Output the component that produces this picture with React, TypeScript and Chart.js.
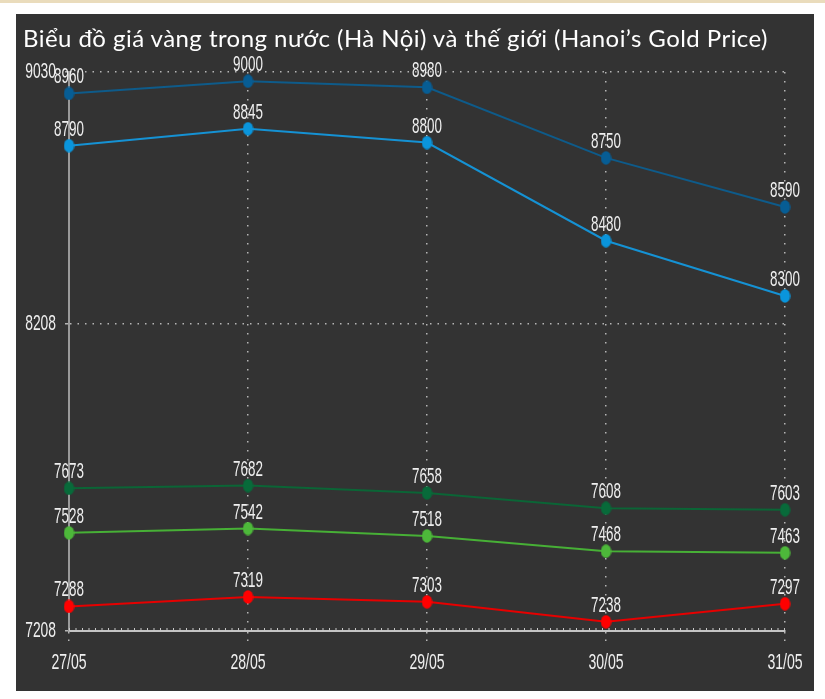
import React, { useEffect, useRef } from 'react';
import { Chart, registerables } from 'chart.js';

Chart.register(...registerables);

const TITLE = 'Biểu đồ giá vàng trong nước (Hà Nội) và thế giới (Hanoi’s Gold Price)';
const DATES = ['27/05', '28/05', '29/05', '30/05', '31/05'];
const SERIES_DARK_BLUE = [8960, 9000, 8980, 8750, 8590];
const SERIES_LIGHT_BLUE = [8790, 8845, 8800, 8480, 8300];
const SERIES_DARK_GREEN = [7673, 7682, 7658, 7608, 7603];
const SERIES_LIGHT_GREEN = [7528, 7542, 7518, 7468, 7463];
const SERIES_RED = [7288, 7319, 7303, 7238, 7297];
const Y_MIN = 7208;
const Y_MAX = 9030;
const Y_TICKS = [7208, 8208, 9030];

const TEXT_COLOR = '#efefef';
const TEXT_FONT = '22px "Liberation Sans", Arial, sans-serif';

function ellipse(color: string): HTMLCanvasElement {
  const c = document.createElement('canvas');
  c.width = 11;
  c.height = 14;
  const g = c.getContext('2d')!;
  g.fillStyle = color;
  g.beginPath();
  g.ellipse(5.5, 7, 5.2, 6.8, 0, 0, Math.PI * 2);
  g.fill();
  return c;
}

function condensed(ctx: CanvasRenderingContext2D, text: string, x: number, y: number, align: CanvasTextAlign, baseline: CanvasTextBaseline, sx: number) {
  ctx.save();
  ctx.translate(x, y);
  ctx.scale(sx, 1);
  ctx.font = TEXT_FONT;
  ctx.fillStyle = TEXT_COLOR;
  ctx.textAlign = align;
  ctx.textBaseline = baseline;
  ctx.fillText(text, 0, 0);
  ctx.restore();
}

const textPlugin = {
  id: 'condensedText',
  afterDraw(chart: any) {
    const ctx = chart.ctx as CanvasRenderingContext2D;
    const area = chart.chartArea;
    const xs = chart.scales.x;
    const ys = chart.scales.y;
    // x axis ruler marks
    ctx.save();
    ctx.strokeStyle = '#c8c8c8';
    ctx.lineWidth = 3;
    ctx.setLineDash([1, 5.5]);
    ctx.beginPath();
    ctx.moveTo(area.left, area.bottom - 1.5);
    ctx.lineTo(area.right, area.bottom - 1.5);
    ctx.stroke();
    ctx.restore();
    xs.ticks.forEach((t: any, i: number) => {
      condensed(ctx, xs.getLabelForValue(t.value), xs.getPixelForTick(i), area.bottom + 32, 'center', 'middle', 0.64);
    });
    ys.ticks.forEach((t: any) => {
      condensed(ctx, String(t.value), area.left - 13, ys.getPixelForValue(t.value), 'right', 'middle', 0.63);
    });
    chart.data.datasets.forEach((ds: any, di: number) => {
      const meta = chart.getDatasetMeta(di);
      meta.data.forEach((pt: any, i: number) => {
        condensed(ctx, String(ds.data[i]), pt.x, pt.y - 10, 'center', 'alphabetic', 0.61);
      });
    });
  },
};

export default function App() {
  const ref = useRef<HTMLCanvasElement | null>(null);

  useEffect(() => {
    if (!ref.current) return;
    const mk = (label: string, data: number[], line: string, point: string) => ({
      label,
      data,
      borderColor: line,
      backgroundColor: point,
      borderWidth: 2,
      pointStyle: ellipse(point) as any,
      pointRadius: 6,
      tension: 0,
    });
    const chart = new Chart(ref.current, {
      type: 'line',
      data: {
        labels: DATES,
        datasets: [
          mk('Thế giới', SERIES_DARK_BLUE, '#0e5b8a', '#075d94'),
          mk('Hà Nội', SERIES_LIGHT_BLUE, '#1592d4', '#0a95dc'),
          mk('Series 3', SERIES_DARK_GREEN, '#0b6536', '#086a3a'),
          mk('Series 4', SERIES_LIGHT_GREEN, '#47b036', '#4db83a'),
          mk('Series 5', SERIES_RED, '#e60000', '#ff0000'),
        ],
      },
      options: {
        animation: false,
        responsive: false,
        maintainAspectRatio: false,
        layout: { padding: { top: 58, right: 29, left: 0, bottom: 0 } },
        plugins: {
          legend: { display: false },
          title: { display: false },
          tooltip: { enabled: false },
        },
        scales: {
          x: {
            type: 'category',
            offset: false,
            afterFit: (s: any) => { s.height = 60; },
            grid: {
              display: true,
              drawOnChartArea: true,
              drawTicks: true,
              tickLength: 16,
              color: (c: any) => (c.index === 0 ? 'transparent' : 'rgba(205,205,205,0.85)'),
              tickColor: 'rgba(205,205,205,0.85)',
              lineWidth: 1.5,
              tickWidth: 1.5,
              tickBorderDash: [1.5, 6],
            },
            border: { display: true, color: '#c4c4c4', width: 2, dash: [1.5, 7.5] },
            ticks: { color: 'transparent', font: { size: 14 }, maxRotation: 0 },
          },
          y: {
            type: 'linear',
            min: Y_MIN,
            max: Y_MAX,
            afterFit: (s: any) => { s.width = 53; },
            afterBuildTicks: (s: any) => { s.ticks = Y_TICKS.map((v) => ({ value: v })); },
            grid: {
              display: true,
              drawTicks: true,
              tickLength: 4,
              color: (c: any) => (c.tick && c.tick.value === Y_MIN ? 'transparent' : 'rgba(205,205,205,0.85)'),
              tickColor: 'rgba(205,205,205,0.85)',
              lineWidth: 1.5,
              tickWidth: 1.5,
            },
            border: { display: true, color: '#9a9a9a', width: 2, dash: [1.5, 6] },
            ticks: { color: 'transparent', font: { size: 14 } },
          },
        },
      },
      plugins: [textPlugin],
    });
    return () => chart.destroy();
  }, []);

  return (
    <div style={{ position: 'fixed', left: 0, top: 0, width: 825, height: 699, background: '#ffffff', overflow: 'hidden' }}>
      <div style={{ position: 'absolute', left: 0, top: 0, width: 825, height: 3, background: '#eadcbc' }} />
      <div style={{ position: 'absolute', left: 16, top: 14, width: 798, height: 677, background: '#333333' }}>
        <canvas ref={ref} width={798} height={677} style={{ position: 'absolute', left: 0, top: 0, width: 798, height: 677 }} />
        <div
          style={{
            position: 'absolute',
            left: 7,
            top: 12,
            whiteSpace: 'nowrap',
            color: '#ffffff',
            font: '24px Lato, "Open Sans", sans-serif',
            lineHeight: '24px',
            letterSpacing: '0.45px',
          }}
        >
          {TITLE}
        </div>
      </div>
    </div>
  );
}
